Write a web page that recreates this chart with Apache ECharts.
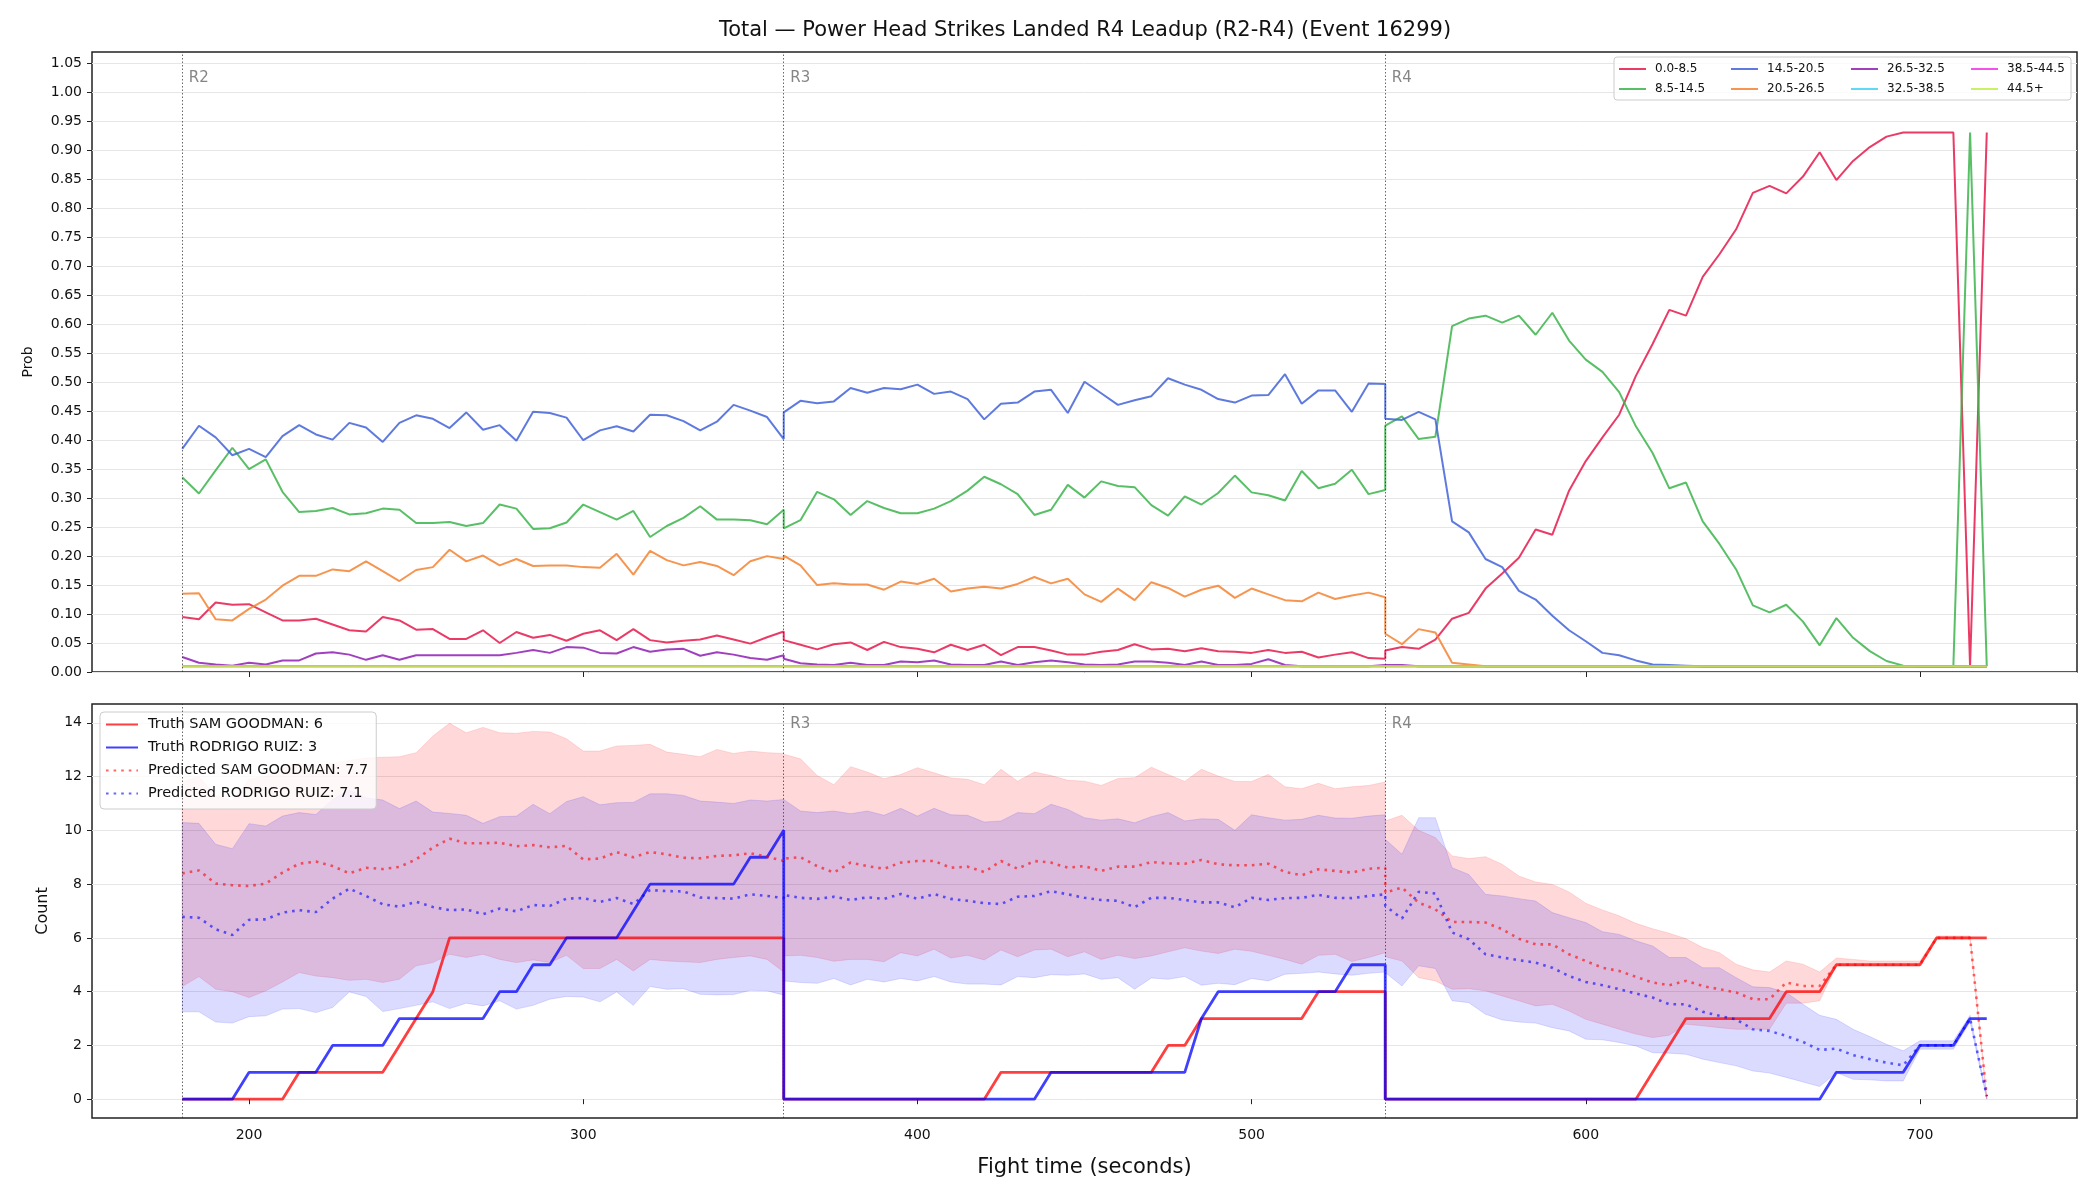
<!DOCTYPE html>
<html>
<head>
<meta charset="utf-8">
<script src="https://cdn.jsdelivr.net/npm/echarts@6/dist/echarts.min.js"></script>
<style>
  html, body { margin: 0; padding: 0; background: #fff; }
  #chart { width: 2100px; height: 1200px; }
</style>
</head>
<body>
<div id="chart"></div>
<script>
// ---- ticks / labels ----
const xTicks = [200, 300, 400, 500, 600, 700];
const probTicks = [0, 0.05, 0.1, 0.15, 0.2, 0.25, 0.3, 0.35, 0.4, 0.45, 0.5, 0.55,
  0.6, 0.65, 0.7, 0.75, 0.8, 0.85, 0.9, 0.95, 1.0, 1.05];
const countTicks = [0, 2, 4, 6, 8, 10, 12, 14];
const roundMarks = [180, 360, 540];
const roundNames = ['R2', 'R3', 'R4'];

// fight time grid: each round sampled every 5 s (round boundaries repeated)
function roundTimes(start) {
  const out = [];
  for (let s = start; s <= start + 180; s += 5) out.push(s);
  return out;
}
const times = [].concat(roundTimes(180), roundTimes(360), roundTimes(540));

// ---- top panel: probability per bin (R2 / R3 / R4) ----
const binNames = ['0.0-8.5', '8.5-14.5', '14.5-20.5', '20.5-26.5', '26.5-32.5', '32.5-38.5', '38.5-44.5', '44.5+'];

const p_0_8 = [
  0.095,0.091,0.120,0.116,0.117,0.103,0.089,0.089,0.092,0.082,0.072,0.070,0.095,0.089,0.073,0.074,0.057,0.057,0.072,0.050,0.069,0.059,0.064,0.054,0.066,0.072,0.055,0.074,0.055,0.051,0.054,0.056,0.063,0.056,0.049,0.060,0.070,
  0.055,0.047,0.039,0.048,0.051,0.038,0.052,0.043,0.040,0.034,0.047,0.038,0.047,0.029,0.043,0.043,0.037,0.030,0.030,0.035,0.038,0.048,0.039,0.040,0.036,0.041,0.036,0.035,0.033,0.038,0.033,0.035,0.025,0.030,0.034,0.024,0.023,
  0.037,0.043,0.040,0.056,0.092,0.102,0.144,0.170,0.197,0.246,0.237,0.313,0.364,0.405,0.444,0.511,0.566,0.625,0.615,0.682,0.721,0.764,0.827,0.839,0.826,0.855,0.897,0.849,0.882,0.906,0.924,0.931,0.931,0.931,0.931,0.010,0.931
];
const p_8_14 = [
  0.336,0.308,0.348,0.387,0.350,0.367,0.311,0.276,0.278,0.283,0.272,0.274,0.282,0.280,0.257,0.257,0.259,0.252,0.257,0.289,0.282,0.247,0.248,0.258,0.289,0.276,0.263,0.278,0.233,0.252,0.266,0.286,0.263,0.263,0.262,0.255,0.280,
  0.248,0.262,0.311,0.298,0.271,0.295,0.283,0.274,0.274,0.282,0.295,0.313,0.337,0.324,0.307,0.271,0.280,0.323,0.301,0.329,0.321,0.319,0.288,0.270,0.303,0.289,0.309,0.339,0.310,0.305,0.296,0.347,0.317,0.325,0.349,0.307,0.314,
  0.425,0.441,0.402,0.406,0.597,0.610,0.615,0.603,0.615,0.582,0.620,0.572,0.539,0.518,0.483,0.424,0.378,0.317,0.327,0.260,0.221,0.177,0.115,0.103,0.116,0.087,0.046,0.093,0.059,0.036,0.019,0.011,0.010,0.010,0.010,0.931,0.010
];
const p_14_20 = [
  0.385,0.425,0.405,0.374,0.385,0.371,0.407,0.426,0.410,0.401,0.430,0.422,0.397,0.430,0.443,0.437,0.421,0.448,0.418,0.426,0.399,0.449,0.447,0.439,0.400,0.417,0.424,0.415,0.444,0.443,0.433,0.417,0.432,0.461,0.451,0.440,0.402,
  0.448,0.468,0.464,0.467,0.490,0.482,0.490,0.488,0.496,0.480,0.484,0.471,0.436,0.463,0.465,0.484,0.487,0.447,0.501,0.481,0.461,0.469,0.476,0.507,0.496,0.487,0.471,0.465,0.477,0.478,0.514,0.463,0.486,0.486,0.449,0.498,0.497,
  0.437,0.435,0.449,0.436,0.260,0.241,0.195,0.181,0.140,0.125,0.097,0.072,0.053,0.033,0.029,0.020,0.013,0.012,0.011,
  0.01,0.01,0.01,0.01,0.01,0.01,0.01,0.01,0.01,0.01,0.01,0.01,0.01,0.01,0.01,0.01,0.01,0.01
];
const p_20_26 = [
  0.135,0.136,0.091,0.089,0.109,0.125,0.149,0.166,0.166,0.177,0.174,0.191,0.174,0.157,0.176,0.181,0.211,0.191,0.201,0.184,0.195,0.183,0.184,0.184,0.181,0.180,0.204,0.168,0.209,0.193,0.184,0.190,0.183,0.167,0.191,0.200,0.195,
  0.201,0.184,0.150,0.153,0.151,0.151,0.142,0.156,0.152,0.161,0.139,0.144,0.147,0.144,0.152,0.164,0.153,0.161,0.134,0.121,0.144,0.124,0.155,0.145,0.130,0.142,0.149,0.128,0.144,0.134,0.124,0.122,0.137,0.126,0.132,0.137,0.129,
  0.066,0.048,0.074,0.068,0.016,0.013,
  0.01,0.01,0.01,0.01,0.01,0.01,0.01,0.01,0.01,0.01,
  0.01,0.01,0.01,0.01,0.01,0.01,0.01,0.01,0.01,0.01,
  0.01,0.01,0.01,0.01,0.01,0.01,0.01,0.01,0.01,0.01,0.01
];
const p_26_32 = [
  0.026,0.016,0.013,0.011,0.016,0.013,0.020,0.020,0.032,0.034,0.030,0.021,0.029,0.021,0.029,0.029,0.029,0.029,0.029,0.029,0.033,0.038,0.033,0.043,0.042,0.033,0.032,0.043,0.035,0.039,0.040,0.028,0.034,0.030,0.024,0.021,0.029,
  0.023,0.015,0.013,0.012,0.016,0.012,0.012,0.018,0.017,0.020,0.013,0.012,0.012,0.018,0.012,0.017,0.020,0.017,0.013,0.012,0.013,0.018,0.018,0.016,0.012,0.018,0.012,0.012,0.014,0.022,0.012,0.010,0.010,0.010,0.010,0.010,0.012,
  0.015,0.012,
  0.01,0.01,0.01,0.01,0.01,0.01,0.01,0.01,0.01,0.01,
  0.01,0.01,0.01,0.01,0.01,0.01,0.01,0.01,0.01,0.01,
  0.01,0.01,0.01,0.01,0.01,0.01,0.01,0.01,0.01,0.01,
  0.01,0.01,0.01,0.01,0.01
];
// the three highest bins sit on the 0.01 floor for the whole fight
const floorRound = [
  0.01,0.01,0.01,0.01,0.01,0.01,0.01,0.01,0.01,0.01,
  0.01,0.01,0.01,0.01,0.01,0.01,0.01,0.01,0.01,0.01,
  0.01,0.01,0.01,0.01,0.01,0.01,0.01,0.01,0.01,0.01,
  0.01,0.01,0.01,0.01,0.01,0.01,0.01
];
const p_32_38 = floorRound.concat(floorRound, floorRound);
const p_38_44 = floorRound.concat(floorRound, floorRound);
const p_44 = floorRound.concat(floorRound, floorRound);

// ---- bottom panel: counts ----
const truthSam = [
  0,0,0,0,0,0,0,1,1,1,1,1,1,2,3,4,6,6,6,6,6,6,6,6,6,6,6,6,6,6,6,6,6,6,6,6,6,
  0,0,0,0,0,0,0,0,0,0,0,0,0,1,1,1,1,1,1,1,1,1,1,2,2,3,3,3,3,3,3,3,4,4,4,4,4,
  0,0,0,0,0,0,0,0,0,0,0,0,0,0,0,0,1,2,3,3,3,3,3,3,4,4,4,5,5,5,5,5,5,6,6,6,6
];
const truthRuiz = [
  0,0,0,0,1,1,1,1,1,2,2,2,2,3,3,3,3,3,3,4,4,5,5,6,6,6,6,7,8,8,8,8,8,8,9,9,10,
  0,0,0,0,0,0,0,0,0,0,0,0,0,0,0,0,1,1,1,1,1,1,1,1,1,3,4,4,4,4,4,4,4,4,5,5,5,
  0,0,0,0,0,0,0,0,0,0,0,0,0,0,0,0,0,0,0,0,0,0,0,0,0,0,0,1,1,1,1,1,2,2,2,3,3
];
const predSam = [
  8.40,8.51,8.02,7.96,7.93,8.02,8.43,8.76,8.84,8.67,8.40,8.61,8.56,8.64,8.92,9.36,9.69,9.52,9.52,9.54,9.41,9.45,9.37,9.42,8.92,8.95,9.19,9.00,9.19,9.11,8.98,8.96,9.05,9.07,9.15,9.02,8.86,
  8.95,9.00,8.67,8.43,8.80,8.67,8.57,8.80,8.86,8.86,8.61,8.65,8.45,8.86,8.57,8.86,8.80,8.61,8.67,8.49,8.65,8.65,8.82,8.77,8.76,8.90,8.74,8.70,8.70,8.76,8.45,8.33,8.55,8.49,8.43,8.57,8.61,
  7.68,7.87,7.31,7.06,6.59,6.59,6.57,6.32,5.97,5.76,5.76,5.39,5.14,4.89,4.77,4.55,4.34,4.24,4.40,4.21,4.09,3.97,3.72,3.72,4.34,4.21,4.21,5.00,5.00,5.00,5.00,5.00,5.00,6.00,6.00,6.00,0.10
];
const predRuiz = [
  6.78,6.75,6.32,6.11,6.67,6.69,6.94,7.03,6.96,7.46,7.83,7.56,7.25,7.16,7.34,7.15,7.03,7.06,6.88,7.09,6.99,7.22,7.19,7.46,7.48,7.34,7.48,7.26,7.78,7.74,7.73,7.50,7.48,7.46,7.62,7.56,7.48,
  7.60,7.49,7.45,7.53,7.41,7.51,7.45,7.63,7.45,7.63,7.45,7.38,7.29,7.26,7.53,7.56,7.74,7.62,7.49,7.41,7.38,7.14,7.49,7.49,7.41,7.32,7.32,7.14,7.49,7.41,7.48,7.49,7.60,7.49,7.48,7.56,7.62,
  7.19,6.72,7.71,7.65,6.20,5.95,5.39,5.27,5.17,5.08,4.89,4.58,4.36,4.24,4.09,3.93,3.78,3.53,3.53,3.25,3.10,2.97,2.60,2.54,2.35,2.13,1.83,1.88,1.64,1.49,1.36,1.26,2.00,2.00,2.00,3.00,0.12
];
const samHi = [
  11.8,12.0,11.3,11.1,11.9,12.0,12.3,12.5,12.4,12.5,12.6,12.69,12.72,12.74,12.89,13.51,13.98,13.63,13.83,13.63,13.61,13.68,13.66,13.41,12.95,12.95,13.14,13.16,13.20,12.91,12.83,12.74,13.01,12.86,12.95,12.89,12.86,
  12.83,12.66,12.04,11.70,12.37,12.17,11.92,12.08,12.33,12.14,11.95,11.90,11.70,12.27,11.83,12.17,12.04,11.86,11.83,11.67,11.93,11.96,12.35,12.08,11.82,12.27,12.02,11.82,11.82,12.08,11.62,11.55,11.75,11.55,11.62,11.67,11.80,
  10.35,10.56,10.00,9.73,9.05,8.95,9.02,8.74,8.30,8.08,7.99,7.71,7.29,7.04,6.82,6.54,6.34,6.17,5.97,5.64,5.45,5.02,4.81,4.73,5.14,5.02,4.73,5.25,5.20,5.14,5.14,5.14,5.14,6.07,6.07,6.07,0.12
];
const samLo = [
  4.19,4.56,4.09,4.00,3.78,4.03,4.36,4.71,4.58,4.52,4.42,4.46,4.34,4.46,4.96,5.08,5.39,5.27,5.39,5.20,5.08,5.18,5.08,5.35,4.86,4.86,5.20,4.77,5.20,5.14,5.11,5.08,5.20,5.27,5.33,5.20,4.73,
  5.33,5.35,5.27,5.13,5.20,5.20,5.11,5.45,5.33,5.58,5.25,5.35,5.18,5.55,5.30,5.55,5.58,5.30,5.48,5.20,5.35,5.23,5.33,5.48,5.63,5.51,5.42,5.58,5.50,5.35,5.20,5.02,5.35,5.39,5.12,5.27,5.45,
  5.30,5.14,4.52,4.40,4.09,4.11,4.03,3.84,3.66,3.47,3.53,3.28,2.97,2.79,2.60,2.42,2.29,2.38,2.79,2.73,2.66,2.60,2.60,2.60,3.57,3.57,3.66,4.96,4.96,4.96,4.96,4.96,4.96,5.95,5.95,5.95,0.00
];
const ruizHi = [
  10.29,10.26,9.48,9.32,10.25,10.16,10.53,10.66,10.59,11.15,11.50,11.21,11.13,10.81,11.09,10.68,10.63,10.56,10.26,10.51,10.53,10.97,10.62,11.07,11.25,10.95,11.03,11.04,11.36,11.36,11.30,11.09,11.05,11.00,11.13,11.09,11.15,
  11.15,10.72,10.66,10.72,10.62,10.72,10.56,10.82,10.53,10.82,10.58,10.56,10.31,10.35,10.66,10.62,10.97,10.78,10.47,10.38,10.43,10.28,10.51,10.66,10.35,10.43,10.41,10.00,10.58,10.47,10.38,10.41,10.56,10.46,10.45,10.53,10.58,
  9.67,9.11,10.47,10.47,8.61,8.36,7.62,7.56,7.46,7.37,6.94,6.75,6.57,6.23,6.13,5.89,5.70,5.27,5.27,4.89,4.89,4.52,4.18,4.15,3.97,3.53,3.12,2.97,2.60,2.33,2.04,1.80,2.17,2.17,2.17,3.12,0.12
];
const ruizLo = [
  3.25,3.25,2.87,2.83,3.07,3.10,3.35,3.37,3.22,3.41,3.99,3.82,3.26,3.37,3.49,3.62,3.37,3.57,3.47,3.66,3.35,3.49,3.72,3.82,3.80,3.62,3.99,3.49,4.19,4.09,4.11,3.90,3.88,3.89,4.05,4.03,3.87,
  4.40,4.34,4.31,4.49,4.25,4.46,4.36,4.49,4.40,4.56,4.36,4.28,4.28,4.25,4.56,4.52,4.63,4.61,4.66,4.46,4.52,4.09,4.51,4.46,4.56,4.24,4.31,4.26,4.49,4.40,4.65,4.68,4.73,4.66,4.61,4.68,4.73,
  4.71,4.21,4.96,4.86,3.66,3.59,3.16,2.95,2.87,2.83,2.66,2.54,2.23,2.21,2.11,1.98,1.73,1.71,1.67,1.49,1.36,1.24,1.05,0.97,0.81,0.64,0.47,0.99,0.74,0.72,0.68,0.68,1.86,1.86,1.86,2.87,0.00
];

// ---- styling ----
const FONT = 'DejaVu Sans';
const binColors = ['rgba(230,25,75,0.85)', 'rgba(60,180,75,0.85)', 'rgba(67,99,216,0.85)', 'rgba(245,130,49,0.85)',
  'rgba(145,30,180,0.85)', 'rgba(66,212,244,0.85)', 'rgba(240,50,230,0.85)', 'rgba(191,239,69,0.85)'];
const binValues = [p_0_8, p_8_14, p_14_20, p_20_26, p_26_32, p_32_38, p_38_44, p_44];

function pairs(vals) {
  return times.map((t, i) => [t, vals[i]]);
}

const roundLine = {
  silent: true,
  symbol: ['none', 'none'],
  label: { show: false },
  lineStyle: { color: 'rgba(40,40,40,0.7)', type: [1.5, 2], width: 1 },
  data: roundMarks.map(x => ({ xAxis: x }))
};

// band between lo and hi, drawn as one polygon through the axis scales
function band(lo, hi, fill, edge) {
  return {
    type: 'custom',
    xAxisIndex: 1,
    yAxisIndex: 1,
    silent: true,
    data: times.map((t, i) => [t, lo[i], hi[i]]),
    encode: { x: 0, y: [1, 2] },
    renderItem: function (params, api) {
      if (params.dataIndex !== 0) return null;
      const pts = [];
      for (let i = 0; i < times.length; i++) pts.push(api.coord([times[i], hi[i]]));
      for (let i = times.length - 1; i >= 0; i--) pts.push(api.coord([times[i], lo[i]]));
      return {
        type: 'polygon',
        shape: { points: pts },
        style: { fill: fill, stroke: edge, lineWidth: 1 }
      };
    }
  };
}

const series = [];
binNames.forEach((name, k) => {
  const s = {
    name: name,
    type: 'line',
    xAxisIndex: 0,
    yAxisIndex: 0,
    data: pairs(binValues[k]),
    symbol: 'none',
    color: binColors[k],
    lineStyle: { width: 2, color: binColors[k] }
  };
  if (k === binNames.length - 1) s.markLine = roundLine;
  series.push(s);
});
// round labels, top panel
series.push({
  type: 'scatter', xAxisIndex: 0, yAxisIndex: 0, silent: true,
  symbolSize: 1, itemStyle: { color: 'rgba(0,0,0,0)' },
  data: roundMarks.map(x => [x, 1.025]),
  label: {
    show: true, position: 'right', distance: 6,
    formatter: p => roundNames[p.dataIndex],
    color: '#666', fontSize: 15, fontFamily: FONT
  }
});

series.push(band(samLo, samHi, 'rgba(255,0,0,0.15)', 'rgba(255,0,0,0.12)'));
series.push(band(ruizLo, ruizHi, 'rgba(0,0,255,0.14)', 'rgba(0,0,255,0.12)'));
series.push({
  name: 'Truth SAM GOODMAN: 6', type: 'line', xAxisIndex: 1, yAxisIndex: 1,
  data: pairs(truthSam), symbol: 'none', color: 'rgba(255,0,0,0.75)',
  lineStyle: { width: 2.8, color: 'rgba(255,0,0,0.75)' },
  markLine: roundLine
});
series.push({
  name: 'Truth RODRIGO RUIZ: 3', type: 'line', xAxisIndex: 1, yAxisIndex: 1,
  data: pairs(truthRuiz), symbol: 'none', color: 'rgba(0,0,255,0.75)',
  lineStyle: { width: 2.8, color: 'rgba(0,0,255,0.75)' }
});
series.push({
  name: 'Predicted SAM GOODMAN: 7.7', type: 'line', xAxisIndex: 1, yAxisIndex: 1,
  data: pairs(predSam), symbol: 'none', color: 'rgba(255,0,0,0.6)',
  lineStyle: { width: 2.6, color: 'rgba(255,0,0,0.6)', type: [2.6, 5] }
});
series.push({
  name: 'Predicted RODRIGO RUIZ: 7.1', type: 'line', xAxisIndex: 1, yAxisIndex: 1,
  data: pairs(predRuiz), symbol: 'none', color: 'rgba(0,0,255,0.6)',
  lineStyle: { width: 2.6, color: 'rgba(0,0,255,0.6)', type: [2.6, 5] }
});
// round labels, bottom panel (R2 sits under the legend)
series.push({
  type: 'scatter', xAxisIndex: 1, yAxisIndex: 1, silent: true,
  symbolSize: 1, itemStyle: { color: 'rgba(0,0,0,0)' },
  data: roundMarks.slice(1).map(x => [x, 13.96]),
  label: {
    show: true, position: 'right', distance: 6,
    formatter: p => roundNames[p.dataIndex + 1],
    color: '#666', fontSize: 15, fontFamily: FONT
  }
});

// top legend: 4 columns of 2 (line only, no marker)
const topCols = [1618, 1730, 1850, 1970];
const legends = topCols.map((left, c) => ({
  orient: 'vertical', left: left, top: 63, padding: 0,
  itemWidth: 27, itemHeight: 12, itemGap: 8, selectedMode: false,
  itemStyle: { opacity: 0 },
  data: [binNames[c * 2], binNames[c * 2 + 1]],
  textStyle: { fontSize: 12, color: '#111', fontFamily: FONT, padding: [0, 0, 0, 4] }
}));
legends.push({
  orient: 'vertical', left: 100, top: 712, padding: [5, 8, 8, 5],
  itemWidth: 32, itemHeight: 14, itemGap: 8, selectedMode: false,
  itemStyle: { opacity: 0 },
  borderColor: '#cccccc', borderWidth: 1, borderRadius: 4,
  backgroundColor: 'rgba(255,255,255,0.8)',
  data: ['Truth SAM GOODMAN: 6', 'Truth RODRIGO RUIZ: 3', 'Predicted SAM GOODMAN: 7.7', 'Predicted RODRIGO RUIZ: 7.1'],
  textStyle: { fontSize: 14.5, color: '#111', fontFamily: FONT, padding: [0, 0, 0, 5] }
});

const axisText = { fontSize: 14, color: '#111', fontFamily: FONT };
const tickStyle = { show: true, length: 5, lineStyle: { color: '#222', width: 1 } };
const gridLine = { show: true, lineStyle: { color: '#e6e6e6', width: 1 } };

const option = {
  animation: false,
  backgroundColor: '#fff',
  textStyle: { fontFamily: FONT },
  title: {
    text: 'Total — Power Head Strikes Landed R4 Leadup (R2-R4) (Event 16299)',
    left: 1085, top: 20, padding: 0, textAlign: 'center',
    textStyle: { fontSize: 21, fontWeight: 'normal', color: '#111', fontFamily: FONT }
  },
  graphic: [{
    type: 'rect', z: 3, silent: true,
    shape: { x: 1614, y: 57, width: 457, height: 43, r: 3 },
    style: { fill: 'rgba(255,255,255,0.8)', stroke: '#cccccc', lineWidth: 1 }
  }],
  legend: legends,
  grid: [
    { left: 92, top: 52, width: 1985, height: 620, show: true, borderColor: '#222', borderWidth: 1.5, containLabel: false },
    { left: 92, top: 704, width: 1985, height: 414, show: true, borderColor: '#222', borderWidth: 1.5, containLabel: false }
  ],
  xAxis: [
    {
      type: 'value', gridIndex: 0, min: 153, max: 747,
      axisLine: { show: false },
      axisTick: Object.assign({ customValues: xTicks }, tickStyle),
      axisLabel: { show: false, customValues: xTicks },
      splitLine: { show: false }
    },
    {
      type: 'value', gridIndex: 1, min: 153, max: 747,
      name: 'Fight time (seconds)', nameLocation: 'middle', nameGap: 39,
      nameTextStyle: { fontSize: 21, color: '#111', fontFamily: FONT },
      axisLine: { show: false },
      axisTick: Object.assign({ customValues: xTicks }, tickStyle),
      axisLabel: Object.assign({ customValues: xTicks, margin: 10 }, axisText),
      splitLine: { show: false }
    }
  ],
  yAxis: [
    {
      type: 'value', gridIndex: 0, min: 0, max: 1.07,
      name: 'Prob', nameLocation: 'middle', nameGap: 57,
      nameTextStyle: { fontSize: 14, color: '#111', fontFamily: FONT },
      axisLine: { show: false },
      axisTick: Object.assign({ customValues: probTicks }, tickStyle),
      axisLabel: Object.assign({ customValues: probTicks, margin: 10, formatter: v => v.toFixed(2) }, axisText),
      splitLine: gridLine
    },
    {
      type: 'value', gridIndex: 1, min: -0.7, max: 14.7,
      name: 'Count', nameLocation: 'middle', nameGap: 41,
      nameTextStyle: { fontSize: 16, color: '#111', fontFamily: FONT },
      axisLine: { show: false },
      axisTick: Object.assign({ customValues: countTicks }, tickStyle),
      axisLabel: Object.assign({ customValues: countTicks, margin: 10 }, axisText),
      splitLine: gridLine
    }
  ],
  series: series
};

const chart = echarts.init(document.getElementById('chart'), null, { renderer: 'canvas' });
chart.setOption(option);
</script>
</body>
</html>
